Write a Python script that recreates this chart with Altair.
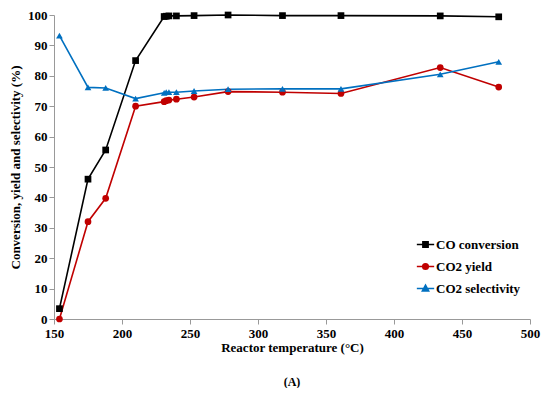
import altair as alt
import pandas as pd

temps = [154, 175, 188, 210, 231, 232.5, 234.5, 240, 253, 278, 318, 361, 434, 477]
co_conv = [3.4, 46, 55.6, 85, 99.5, 99.6, 99.7, 99.7, 99.8, 100, 99.8, 99.8, 99.7, 99.4]
co2_yield = [0, 32, 39.7, 70, 71.5, 71.8, 72, 72.3, 73, 74.8, 74.6, 74.2, 82.7, 76.3]
co2_sel = [93.2, 76.2, 76, 72.5, 74.4, 74.6, 74.6, 74.6, 75, 75.6, 75.7, 75.7, 80.5, 84.6]

series = ["CO conversion", "CO2 yield", "CO2 selectivity"]
colors = ["#000000", "#C00000", "#0070C0"]
shapes = ["square", "circle", "triangle-up"]
legend_paths = [
    "M-1,0H1M-0.3,-0.3H0.3V0.3H-0.3Z",
    "M-1,0H1M0.32,0A0.32,0.32 0 1,1 -0.32,0A0.32,0.32 0 1,1 0.32,0Z",
    "M-1,0H1M0,-0.38L0.36,0.28H-0.36Z",
]

rows = []
for s, vals in zip(series, [co_conv, co2_yield, co2_sel]):
    for t, v in zip(temps, vals):
        rows.append({"temp": t, "value": v, "series": s, "series2": s, "order": t})
df = pd.DataFrame(rows)

FONT = "Liberation Serif"

x = alt.X("temp:Q", scale=alt.Scale(domain=[150, 500], nice=False),
          axis=alt.Axis(values=list(range(150, 501, 50)), title="Reactor temperature (°C)",
                        labelFlush=False))
y = alt.Y("value:Q", scale=alt.Scale(domain=[0, 100], nice=False),
          axis=alt.Axis(values=list(range(0, 101, 10)), title="Conversion, yield and selectivity (%)"))

col = alt.Color("series:N", scale=alt.Scale(domain=series, range=colors), legend=None)

base = alt.Chart(df)
lines = base.mark_line(strokeWidth=1.6).encode(x=x, y=y, color=col, order="order:Q")
pts = base.mark_point(filled=True, size=45, opacity=1).encode(
    x=x, y=y, color=col,
    shape=alt.Shape("series:N", scale=alt.Scale(domain=series, range=shapes), legend=None))

leg = alt.Legend(title=None, orient="none", legendX=362, legendY=220, padding=0,
                 labelFont=FONT, labelFontWeight="bold", labelFontSize=13, labelColor="#000",
                 symbolSize=300, symbolStrokeWidth=1.6, symbolOpacity=1, rowPadding=5,
                 labelOffset=1)
legend_layer = base.mark_point(filled=True, opacity=0).encode(
    x=x, y=y,
    fill=alt.Fill("series2:N", scale=alt.Scale(domain=series, range=colors), legend=leg),
    stroke=alt.Stroke("series2:N", scale=alt.Scale(domain=series, range=colors), legend=leg),
    shape=alt.Shape("series2:N", scale=alt.Scale(domain=series, range=legend_paths), legend=leg),
)

chart = alt.layer(lines, pts, legend_layer).resolve_scale(
    color="independent", shape="independent", fill="independent", stroke="independent"
).properties(
    width=476, height=304,
    autosize=alt.AutoSizeParams(type="none"),
    padding={"left": 46, "top": 7, "right": 12, "bottom": 69},
    title=alt.TitleParams("(A)", orient="bottom", font=FONT, fontSize=12, fontWeight="bold",
                          color="#000", offset=23, anchor="middle"),
).configure_view(stroke=None).configure_axis(
    grid=False, domainColor="#999", tickColor="#999", tickSize=5,
    labelFont=FONT, labelFontWeight="bold", labelFontSize=13, labelColor="#000",
    titleFont=FONT, titleFontWeight="bold", titleFontSize=13, titleColor="#000",
).configure_axisY(titlePadding=5, labelPadding=2).configure_axisX(titlePadding=1, labelPadding=3)

chart.save("out.html", embed_options={"renderer": "svg", "actions": False})
